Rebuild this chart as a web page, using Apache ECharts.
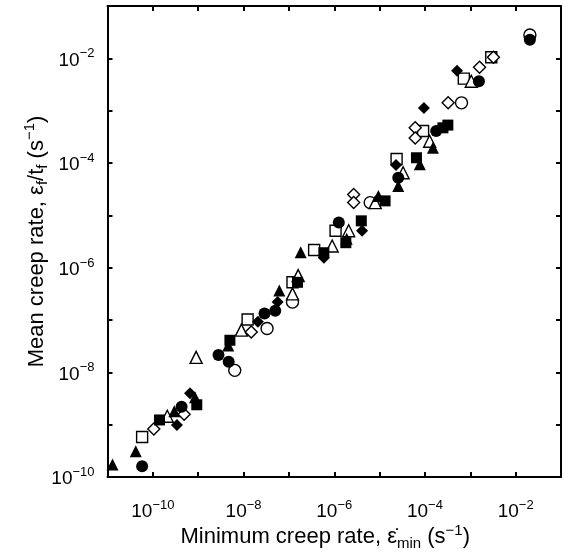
<!DOCTYPE html>
<html><head><meta charset="utf-8">
<script src="https://cdn.jsdelivr.net/npm/echarts@6/dist/echarts.min.js"></script>
<style>html,body{margin:0;padding:0;background:#fff}#c{width:564px;height:556px}</style>
</head><body><div id="c"></div>
<script>
// [minimum creep rate (s^-1), mean creep rate eps_f/t_f (s^-1)]
const filledCircles = [
  [5.8e-11, 1.6e-10], [4.3e-10, 2.2e-9], [2.8e-9, 2.15e-8], [4.7e-9, 1.6e-8],
  [2.9e-8, 1.33e-7], [5.0e-8, 1.5e-7], [1.26e-6, 7.3e-6], [2.58e-5, 5.25e-5],
  [1.77e-4, 4.1e-4], [1.55e-3, 3.65e-3], [2.06e-2, 2.27e-2]
];
const openCircles = [
  [6.4e-9, 1.09e-8], [3.3e-8, 6.9e-8], [1.2e-7, 2.2e-7], [6.2e-6, 1.75e-5],
  [6.4e-4, 1.41e-3], [2.06e-2, 2.8e-2]
];
const filledSquares = [
  [1.4e-10, 1.23e-9], [9.3e-10, 2.4e-9], [5.0e-9, 4.1e-8], [1.55e-7, 5.25e-7],
  [5.9e-7, 1.93e-6], [1.8e-6, 3.0e-6], [3.95e-6, 7.85e-6], [1.32e-5, 1.89e-5],
  [6.5e-5, 1.26e-4], [2.49e-4, 4.7e-4], [3.2e-4, 5.3e-4]
];
const openSquares = [
  [5.8e-11, 5.8e-10], [1.23e-8, 1.02e-7], [1.2e-7, 5.25e-7], [3.6e-7, 2.17e-6],
  [1.07e-6, 5.07e-6], [2.37e-5, 1.19e-4], [9.1e-5, 4.1e-4], [7.2e-4, 4.1e-3],
  [2.9e-3, 1.05e-2]
];
const filledTriangles = [
  [1.29e-11, 1.73e-10], [4.2e-11, 3.1e-10], [2.97e-10, 1.8e-9], [8.5e-10, 3.34e-9],
  [4.6e-9, 3.27e-8], [6.15e-8, 3.65e-7], [1.82e-7, 1.97e-6], [1.88e-6, 3.56e-6],
  [9.4e-6, 2.35e-5], [2.58e-5, 3.65e-5], [7.7e-5, 9.45e-5], [1.5e-4, 1.95e-4]
];
const openTriangles = [
  [2.08e-10, 1.45e-9], [9.0e-10, 1.93e-8], [8.95e-9, 6.4e-8], [1.2e-7, 3.15e-7],
  [1.6e-7, 7.05e-7], [9.0e-7, 2.6e-6], [2.08e-6, 5.07e-6], [8.0e-6, 1.75e-5],
  [3.3e-5, 6.5e-5], [1.27e-4, 2.6e-4], [1.05e-3, 3.65e-3]
];
const filledDiamonds = [
  [3.4e-10, 9.9e-10], [6.6e-10, 4.0e-9], [2.07e-8, 9.25e-8], [5.65e-8, 2.2e-7],
  [5.9e-7, 1.55e-6], [4.1e-6, 5.07e-6], [2.3e-5, 9.2e-5], [9.5e-5, 1.13e-3],
  [5.1e-4, 5.8e-3]
];
const openDiamonds = [
  [1.05e-10, 8.3e-10], [4.9e-10, 1.58e-9], [1.48e-8, 5.9e-8], [2.68e-6, 2.5e-5],
  [2.68e-6, 1.75e-5], [6.1e-5, 4.7e-4], [6.1e-5, 3.0e-4], [3.25e-4, 1.41e-3],
  [1.6e-3, 6.75e-3], [3.24e-3, 1.05e-2]
];
const xRange = [1e-11, 1e-1];
const yRange = [1e-10, 1e-1];
const xTitle = '{t|Minimum creep rate, \u03B5\u0307}{sub|min}{t| (s}{sup|\u22121}{t|)}';
const yTitle = '{t|Mean creep rate, \u03B5}{sub|f}{t|/t}{sub|f}{t| (s}{sup|\u22121}{t|)}';

const FONT = '"Liberation Sans", Arial, Helvetica, sans-serif';
function expLabel(v) {
  const e = Math.round(Math.log10(v));
  if (e % 2 !== 0) return '';
  return '{b|10}{s|\u2212' + (-e) + '}';
}
const labelRich = {
  b: { fontSize: 19, fontFamily: FONT, color: '#000', lineHeight: 26 },
  s: { fontSize: 13, fontFamily: FONT, color: '#000', lineHeight: 13, verticalAlign: 'top' }
};
const titleRich = {
  t: { fontSize: 22, fontFamily: FONT, color: '#000', lineHeight: 28 },
  sub: { fontSize: 15, fontFamily: FONT, color: '#000', lineHeight: 14, verticalAlign: 'bottom' },
  sup: { fontSize: 15, fontFamily: FONT, color: '#000', lineHeight: 14, verticalAlign: 'top' }
};
const lineStyle = { color: '#000', width: 2 };
function axisBase(range) {
  return {
    type: 'log', logBase: 10, min: range[0], max: range[1], interval: 1,
    axisLine: { show: true, onZero: false, lineStyle },
    axisTick: { show: true, inside: true, length: 5, lineStyle: { color: '#000', width: 2 } },
    minorTick: { show: false }, splitLine: { show: false }
  };
}
function sym(type, size, filled) {
  return {
    symbol: type, symbolSize: size,
    itemStyle: filled ? { color: '#000', borderWidth: 0, opacity: 1 }
                      : { color: '#fff', borderColor: '#000', borderWidth: 1.4, opacity: 1 }
  };
}
const series = [
  Object.assign({ name: 'open circle', data: openCircles }, sym('circle', 12, false)),
  Object.assign({ name: 'open square', data: openSquares }, sym('rect', 11, false)),
  Object.assign({ name: 'open triangle', data: openTriangles }, sym('triangle', 12, false)),
  Object.assign({ name: 'open diamond', data: openDiamonds }, sym('diamond', 12, false)),
  Object.assign({ name: 'filled circle', data: filledCircles }, sym('circle', 12, true)),
  Object.assign({ name: 'filled square', data: filledSquares }, sym('rect', 11, true)),
  Object.assign({ name: 'filled triangle', data: filledTriangles }, sym('triangle', 12, true)),
  Object.assign({ name: 'filled diamond', data: filledDiamonds }, sym('diamond', 12, true))
].map(s => Object.assign(s, { type: 'scatter', xAxisIndex: 0, yAxisIndex: 0, animation: false }));

const chart = echarts.init(document.getElementById('c'), null, { renderer: 'canvas' });
chart.setOption({
  animation: false,
  backgroundColor: '#fff',
  grid: { left: 107.5, right: 1.5, top: 6, bottom: 79 },
  xAxis: [
    Object.assign(axisBase(xRange), {
      position: 'bottom',
      axisLabel: { formatter: expLabel, margin: 22, rich: labelRich },
      name: xTitle, nameLocation: 'middle', nameGap: 46, nameMoveOverlap: false,
      nameTextStyle: { rich: titleRich, padding: [0, 18, 0, 0] }
    }),
    Object.assign(axisBase(xRange), { position: 'top', axisLabel: { show: false } })
  ],
  yAxis: [
    Object.assign(axisBase(yRange), {
      position: 'left',
      axisLabel: { formatter: expLabel, margin: 13, rich: labelRich, padding: [4, 0, 0, 0] },
      name: yTitle, nameLocation: 'middle', nameGap: 57, nameMoveOverlap: false,
      nameTextStyle: { rich: titleRich }
    }),
    Object.assign(axisBase(yRange), { position: 'right', axisLabel: { show: false } })
  ],
  series
});
</script></body></html>
